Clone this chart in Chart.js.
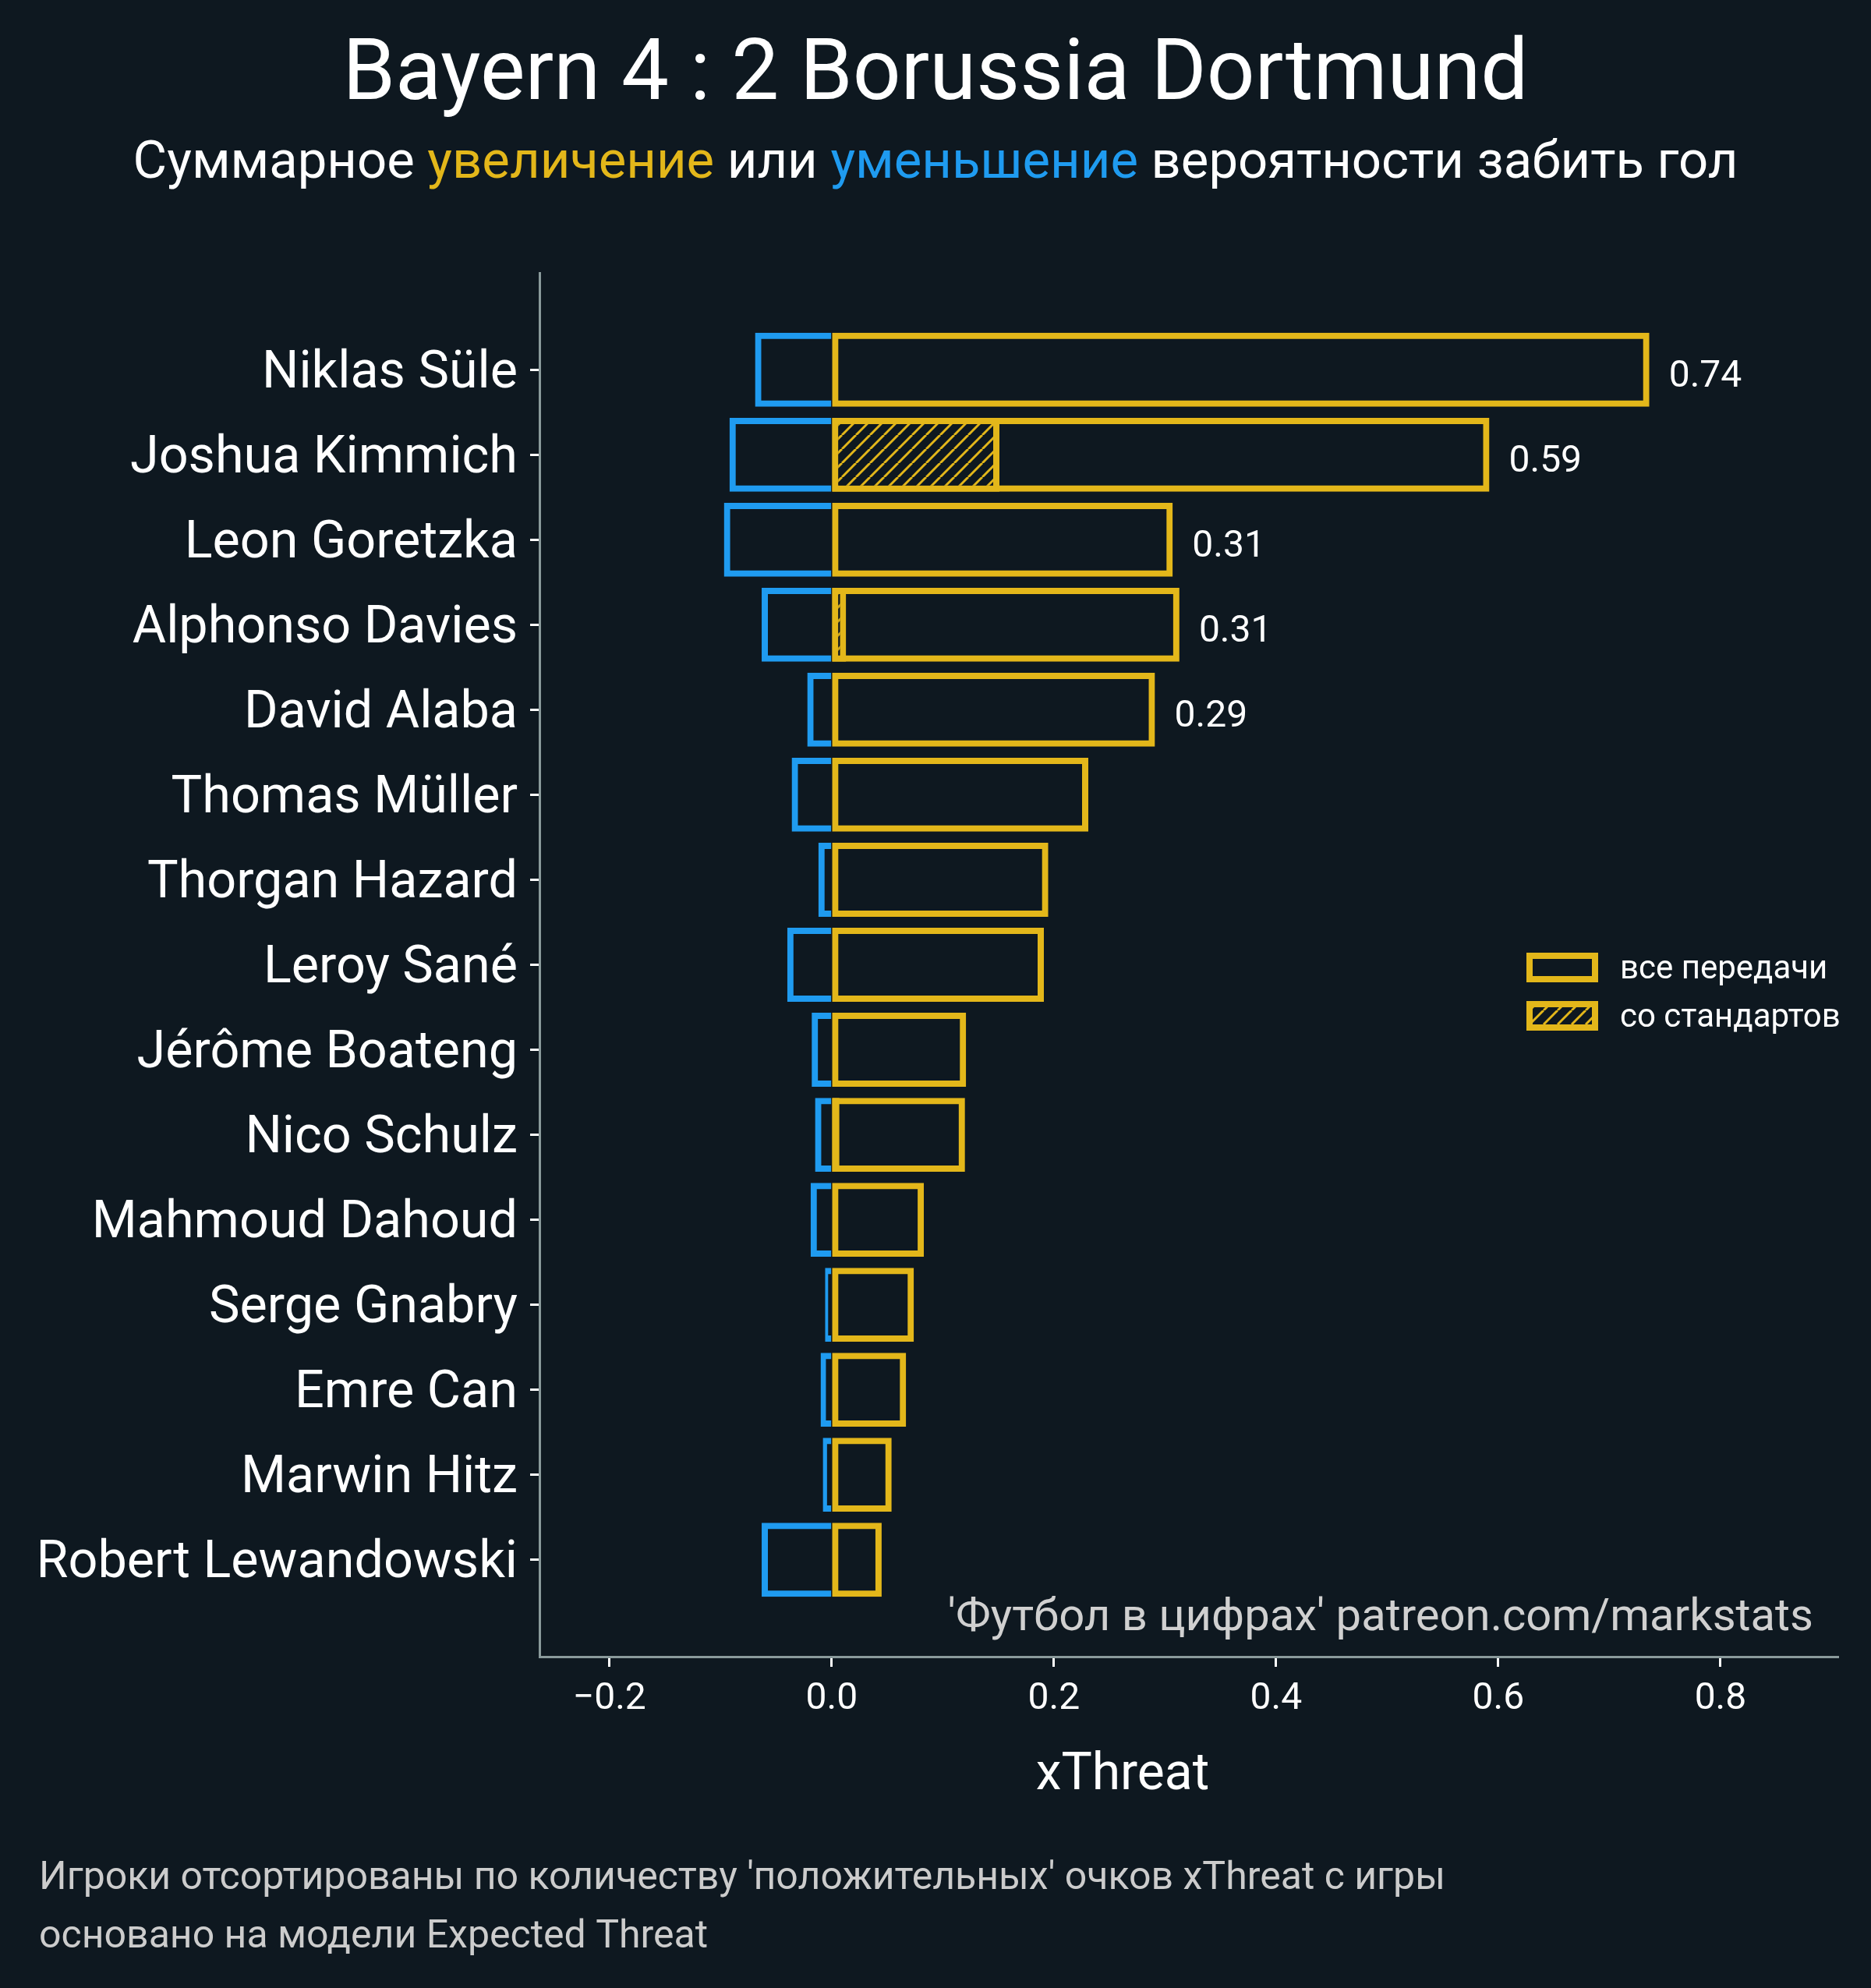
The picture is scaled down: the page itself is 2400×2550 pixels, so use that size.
<!DOCTYPE html>
<html>
<head>
<meta charset="utf-8">
<script src="https://cdn.jsdelivr.net/npm/chart.js@4.4.1/dist/chart.umd.min.js"></script>
<style>
    html, body { margin: 0; padding: 0; background: #0e1820; }
    canvas { display: block; }
</style>
</head>
<body>
<canvas id="chart" width="2400" height="2550" style="width:2400px;height:2550px"></canvas>
<script>
// Players, sorted by positive xThreat
const players = [
    'Niklas Süle', 'Joshua Kimmich', 'Leon Goretzka', 'Alphonso Davies', 'David Alaba',
    'Thomas Müller', 'Thorgan Hazard', 'Leroy Sané', 'Jérôme Boateng', 'Nico Schulz',
    'Mahmoud Dahoud', 'Serge Gnabry', 'Emre Can', 'Marwin Hitz', 'Robert Lewandowski'
];
// all passes (increase)
const positive = [0.736, 0.592, 0.307, 0.313, 0.291, 0.231, 0.195, 0.191, 0.121, 0.120, 0.083, 0.074, 0.067, 0.054, 0.045];
// set pieces part of the increase
const setPieces = [0, 0.151, 0, 0.013, 0, 0, 0, 0, 0, 0.007, 0, 0, 0, 0, 0];
// decrease
const negative = [-0.069, -0.092, -0.097, -0.063, -0.022, -0.036, -0.012, -0.040, -0.018, -0.015, -0.019, -0.006, -0.010, -0.008, -0.063];
// how many of the top bars get a value label
const labelledBars = 5;
const xTicks = [-0.2, 0.0, 0.2, 0.4, 0.6, 0.8];

const BG = '#0e1820';
const YELLOW = '#e3b71a';
const BLUE = '#1f9bf0';
const SPINE = '#8a9a9b';
const FONT = 'Roboto';

Chart.defaults.font.family = FONT;

// diagonal hatch used for set pieces
function makeHatch() {
    const s = 18;
    const c = document.createElement('canvas');
    c.width = s;
    c.height = s;
    const g = c.getContext('2d');
    g.fillStyle = BG;
    g.fillRect(0, 0, s, s);
    g.strokeStyle = YELLOW;
    g.lineWidth = 3;
    for (let k = -1; k <= 1; k++) {
        g.beginPath();
        g.moveTo(k * s, s);
        g.lineTo(k * s + s, 0);
        g.stroke();
    }
    return g.createPattern(c, 'repeat');
}
const hatch = makeHatch();

// background + all the free texts
const decorations = {
    id: 'decorations',
    beforeDraw(chart) {
        const ctx = chart.ctx;
        ctx.save();
        ctx.fillStyle = BG;
        ctx.fillRect(0, 0, chart.width, chart.height);
        ctx.restore();
    },
    afterDatasetsDraw(chart) {
        const ctx = chart.ctx;
        const x = chart.scales.x;
        const y = chart.scales.y;
        ctx.save();
        ctx.fillStyle = '#ffffff';
        ctx.font = '48px ' + FONT;
        ctx.textAlign = 'left';
        ctx.textBaseline = 'alphabetic';
        for (let i = 0; i < labelledBars; i++) {
            const px = x.getPixelForValue(positive[i]) + 25;
            const py = y.getPixelForValue(i) + 22;
            ctx.fillText(positive[i].toFixed(2), px, py);
        }
        ctx.restore();
    },
    afterDraw(chart) {
        const ctx = chart.ctx;
        ctx.save();
        ctx.textBaseline = 'alphabetic';

        // title
        ctx.fillStyle = '#ffffff';
        ctx.textAlign = 'center';
        ctx.font = '108.5px ' + FONT;
        ctx.fillText('Bayern 4 : 2 Borussia Dortmund', 1200, 127);

        // subtitle with coloured words
        const parts = [
            ['Суммарное ', '#ffffff'],
            ['увеличение', YELLOW],
            [' или ', '#ffffff'],
            ['уменьшение', BLUE],
            [' вероятности забить гол', '#ffffff']
        ];
        ctx.font = '67px ' + FONT;
        ctx.textAlign = 'left';
        const total = parts.reduce((acc, p) => acc + ctx.measureText(p[0]).width, 0);
        let sx = 1200 - total / 2;
        parts.forEach(p => {
            ctx.fillStyle = p[1];
            ctx.fillText(p[0], sx, 228);
            sx += ctx.measureText(p[0]).width;
        });

        // axis title
        ctx.fillStyle = '#ffffff';
        ctx.textAlign = 'center';
        ctx.font = '66px ' + FONT;
        ctx.fillText('xThreat', 1440, 2295);

        // watermark
        ctx.fillStyle = '#d0d0d0';
        ctx.textAlign = 'right';
        ctx.font = '58px ' + FONT;
        ctx.fillText("'Футбол в цифрах' patreon.com/markstats", 2326, 2091);

        // footnotes
        ctx.fillStyle = '#cccccc';
        ctx.textAlign = 'left';
        ctx.font = '50px ' + FONT;
        ctx.fillText("Игроки отсортированы по количеству 'положительных' очков xThreat с игры", 50, 2423);
        ctx.fillText('основано на модели Expected Threat', 50, 2498);

        // legend
        const items = [['все передачи', BG, 1222], ['со стандартов', hatch, 1284]];
        ctx.font = '42px ' + FONT;
        items.forEach(item => {
            ctx.fillStyle = item[1];
            ctx.fillRect(1962, item[2] + 4, 84, 30);
            ctx.strokeStyle = YELLOW;
            ctx.lineWidth = 8;
            ctx.strokeRect(1962, item[2] + 4, 84, 30);
            ctx.fillStyle = '#ffffff';
            ctx.fillText(item[0], 2078, item[2] + 33);
        });
        ctx.restore();
    }
};

const toPoints = arr => arr.map((v, i) => ({ x: v === 0 ? null : v, y: i }));

new Chart(document.getElementById('chart'), {
    type: 'bar',
    data: {
        datasets: [
            {
                label: 'со стандартов',
                data: toPoints(setPieces),
                backgroundColor: hatch,
                borderColor: YELLOW,
                borderWidth: 8,
                borderSkipped: false,
                grouped: false,
                categoryPercentage: 1,
                barPercentage: 0.87
            },
            {
                label: 'все передачи',
                data: toPoints(positive),
                backgroundColor: 'rgba(0,0,0,0)',
                borderColor: YELLOW,
                borderWidth: 8,
                borderSkipped: false,
                grouped: false,
                categoryPercentage: 1,
                barPercentage: 0.87
            },
            {
                label: 'уменьшение',
                data: toPoints(negative),
                backgroundColor: 'rgba(0,0,0,0)',
                borderColor: BLUE,
                borderWidth: 8,
                borderSkipped: 'start', // the edge at zero is covered by the yellow bar
                grouped: false,
                categoryPercentage: 1,
                barPercentage: 0.87
            }
        ]
    },
    options: {
        indexAxis: 'y',
        responsive: false,
        devicePixelRatio: 1,
        animation: false,
        layout: { padding: { top: 350, right: 42, bottom: 305, left: 0 } },
        plugins: {
            legend: { display: false },
            title: { display: false },
            tooltip: { enabled: false }
        },
        scales: {
            x: {
                type: 'linear',
                min: -0.263,
                max: 0.906,
                afterBuildTicks: axis => { axis.ticks = xTicks.map(v => ({ value: v })); },
                afterFit: axis => { axis.height = 120; },
                border: { display: true, color: SPINE, width: 3 },
                grid: { display: true, drawOnChartArea: false, drawTicks: true, tickLength: 13, tickWidth: 3, tickColor: '#ffffff' },
                ticks: {
                    color: '#ffffff',
                    font: { size: 48 },
                    padding: 13,
                    maxRotation: 0,
                    autoSkip: false,
                    callback: v => (v < 0 ? '\u2212' : '') + Math.abs(v).toFixed(1)
                }
            },
            y: {
                type: 'linear',
                reverse: true,
                offset: false,
                min: -1.14,
                max: 15.14,
                afterBuildTicks: axis => { axis.ticks = players.map((p, i) => ({ value: i })); },
                afterFit: axis => { axis.width = 692; },
                border: { display: true, color: SPINE, width: 3 },
                grid: { display: true, offset: false, drawOnChartArea: false, drawTicks: true, tickLength: 12, tickWidth: 3, tickColor: '#ffffff' },
                ticks: {
                    color: '#ffffff',
                    font: { size: 66.5 },
                    padding: 16,
                    labelOffset: 6,
                    autoSkip: false,
                    callback: v => players[v]
                }
            }
        }
    },
    plugins: [decorations]
});
</script>
</body>
</html>
